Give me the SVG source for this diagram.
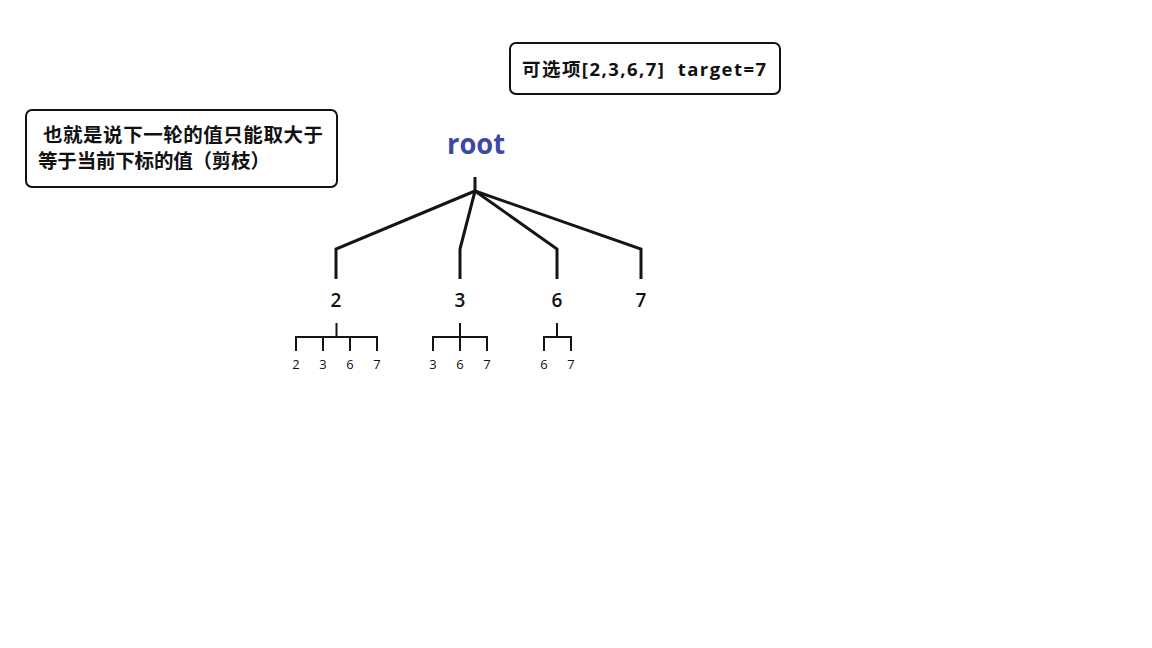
<svg xmlns="http://www.w3.org/2000/svg" width="1152" height="648" viewBox="0 0 1152 648">
<style>
.box{fill:#fff;stroke:#111;stroke-width:2}
.bt{font-family:"Open Sans","Noto Sans CJK SC",sans-serif;font-weight:bold;fill:#111;white-space:pre}
.ln{fill:none;stroke:#151515;stroke-width:3;stroke-linejoin:miter}
.sl{fill:none;stroke:#151515;stroke-width:2}
.n1{font-family:"Open Sans","Noto Sans",sans-serif;font-weight:600;font-size:19px;fill:#111;text-anchor:middle}
.n2{font-family:"Open Sans","Noto Sans",sans-serif;font-size:13px;fill:#111;text-anchor:middle}
</style>
<rect width="1152" height="648" fill="#fff"/>
<g id="note-options">
<rect class="box" x="510" y="43" width="270" height="51" rx="6"/>
<text class="bt" x="522" y="76" font-size="18.5" textLength="244" lengthAdjust="spacing" xml:space="preserve">可选项[2,3,6,7]  target=7</text>
</g>
<g id="note-prune">
<rect class="box" x="26" y="110" width="311" height="77" rx="6"/>
<text class="bt" x="43" y="142" font-size="19.5" textLength="280" lengthAdjust="spacing">也就是说下一轮的值只能取大于</text>
<text class="bt" x="38" y="168" font-size="19.5" textLength="232" lengthAdjust="spacing">等于当前下标的值（剪枝）</text>
</g>
<g id="root">
<text x="476" y="154" font-family="'Open Sans',sans-serif" font-weight="bold" font-size="28" fill="#3c48a6" text-anchor="middle" textLength="58" lengthAdjust="spacingAndGlyphs">root</text>
</g>
<g id="connectors">
<path class="ln" d="M475 177V191"/>
<path class="ln" d="M475 191L336 249V279"/>
<path class="ln" d="M475 191L460 249V279"/>
<path class="ln" d="M475 191L557 249V279"/>
<path class="ln" d="M475 191L641 249V279"/>
<path class="sl" d="M336.5 323V337M296 351V337H377V351M323 337V351M350 337V351"/>
<path class="sl" d="M460 323V337M433 351V337H487V351M460 337V351"/>
<path class="sl" d="M557 323V337M544 351V337H571V351"/>
</g>
<g id="n2"><text class="n1" x="336" y="307">2</text></g>
<g id="n3"><text class="n1" x="460" y="307">3</text></g>
<g id="n6"><text class="n1" x="557" y="307">6</text></g>
<g id="n7"><text class="n1" x="641" y="307">7</text></g>
<g id="n2-children">
<text class="n2" x="296" y="369">2</text>
<text class="n2" x="323" y="369">3</text>
<text class="n2" x="350" y="369">6</text>
<text class="n2" x="377" y="369">7</text>
</g>
<g id="n3-children">
<text class="n2" x="433" y="369">3</text>
<text class="n2" x="460" y="369">6</text>
<text class="n2" x="487" y="369">7</text>
</g>
<g id="n6-children">
<text class="n2" x="544" y="369">6</text>
<text class="n2" x="571" y="369">7</text>
</g>
</svg>
